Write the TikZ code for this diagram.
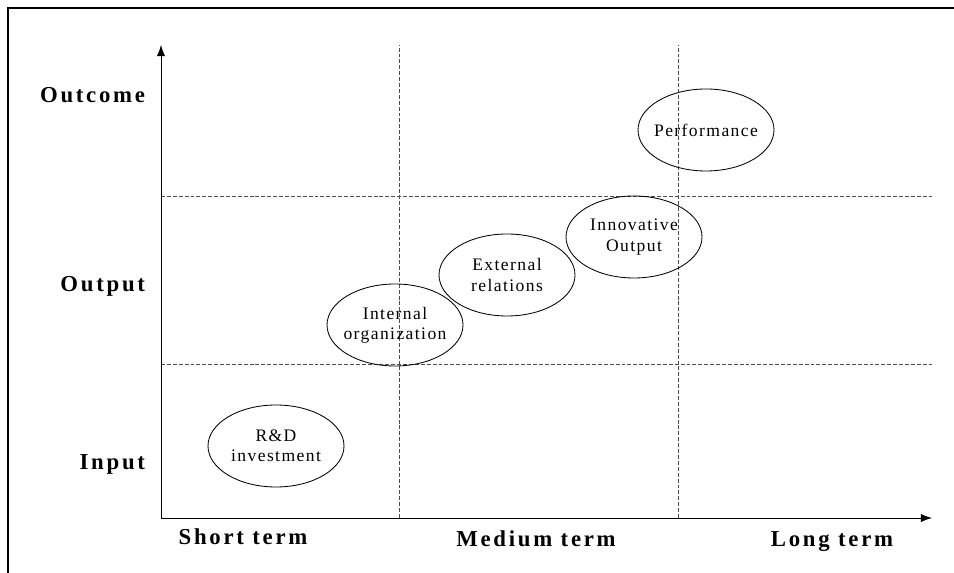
\documentclass[tikz,border=0pt]{standalone}
\usepackage{fontspec}
\setmainfont{Liberation Serif}
\usepackage{tikz}
\usetikzlibrary{arrows, arrows.meta, shapes}
\tikzset{>={Latex[length=8pt,width=6pt]}}
\tikzset{stage/.style={ellipse, draw, semithick, minimum width=3.4cm, minimum height=2.05cm, inner xsep=-1cm, inner ysep=-0.5cm, align=center, font=\fontsize{12.5}{14.4}\selectfont\addfontfeature{LetterSpace=8}}}
\tikzset{axislabel/.style={font=\fontsize{16.2}{18}\selectfont\bfseries\addfontfeature{LetterSpace=12}}}
\tikzset{gridline/.style={black!70, thin, dash pattern=on 2.8pt off 1.4pt}}

\begin{document}
\begin{tikzpicture}
\useasboundingbox (0,0) rectangle (23.85,14.325);
\draw[line width=1.5pt] (0.2,0) -- (0.2,14.125) -- (23.85,14.125);
% axes
\coordinate (O) at (4.025,1.375);
\coordinate (ytop) at (4.025,13.2);
\coordinate (xend) at (23.3,1.375);
% grid
\coordinate (v1b) at (9.975,1.375);
\coordinate (v1t) at (9.975,13.2);
\coordinate (v2b) at (16.95,1.375);
\coordinate (v2t) at (16.95,13.2);
\coordinate (h1l) at (4.025,9.425);
\coordinate (h1r) at (23.3,9.425);
\coordinate (h2l) at (4.025,5.225);
\coordinate (h2r) at (23.3,5.225);
\draw[gridline] (v1b) -- (v1t);
\draw[gridline] (v2b) -- (v2t);
\draw[gridline] (h1l) -- (h1r);
\draw[gridline] (h2l) -- (h2r);
\draw[->, semithick] (O) -- (ytop);
\draw[->, semithick] (O) -- (xend);
% levels
\node[axislabel, anchor=base east] (outcome) at (3.75,11.75) {Outcome};
\node[axislabel, anchor=base east] (output) at (3.75,7.025) {Output};
\node[axislabel, anchor=base east] (input) at (3.75,2.575) {Input};
\node[axislabel, anchor=base] (short) at (6.075,0.7) {Short term};
\node[axislabel, anchor=base] (medium) at (13.4,0.65) {Medium term};
\node[axislabel, anchor=base] (long) at (20.8,0.65) {Long term};
% stages
\node[stage] (rd) at (6.9,3.175) {R\&D\\investment};
\node[stage] (intorg) at (9.875,6.2) {Internal\\organization};
\node[stage] (extrel) at (12.675,7.45) {External\\relations};
\node[stage] (innout) at (15.85,8.4) {Innovative\\Output};
\node[stage] (perf) at (17.65,11.075) {Performance};
\end{tikzpicture}
\end{document}
